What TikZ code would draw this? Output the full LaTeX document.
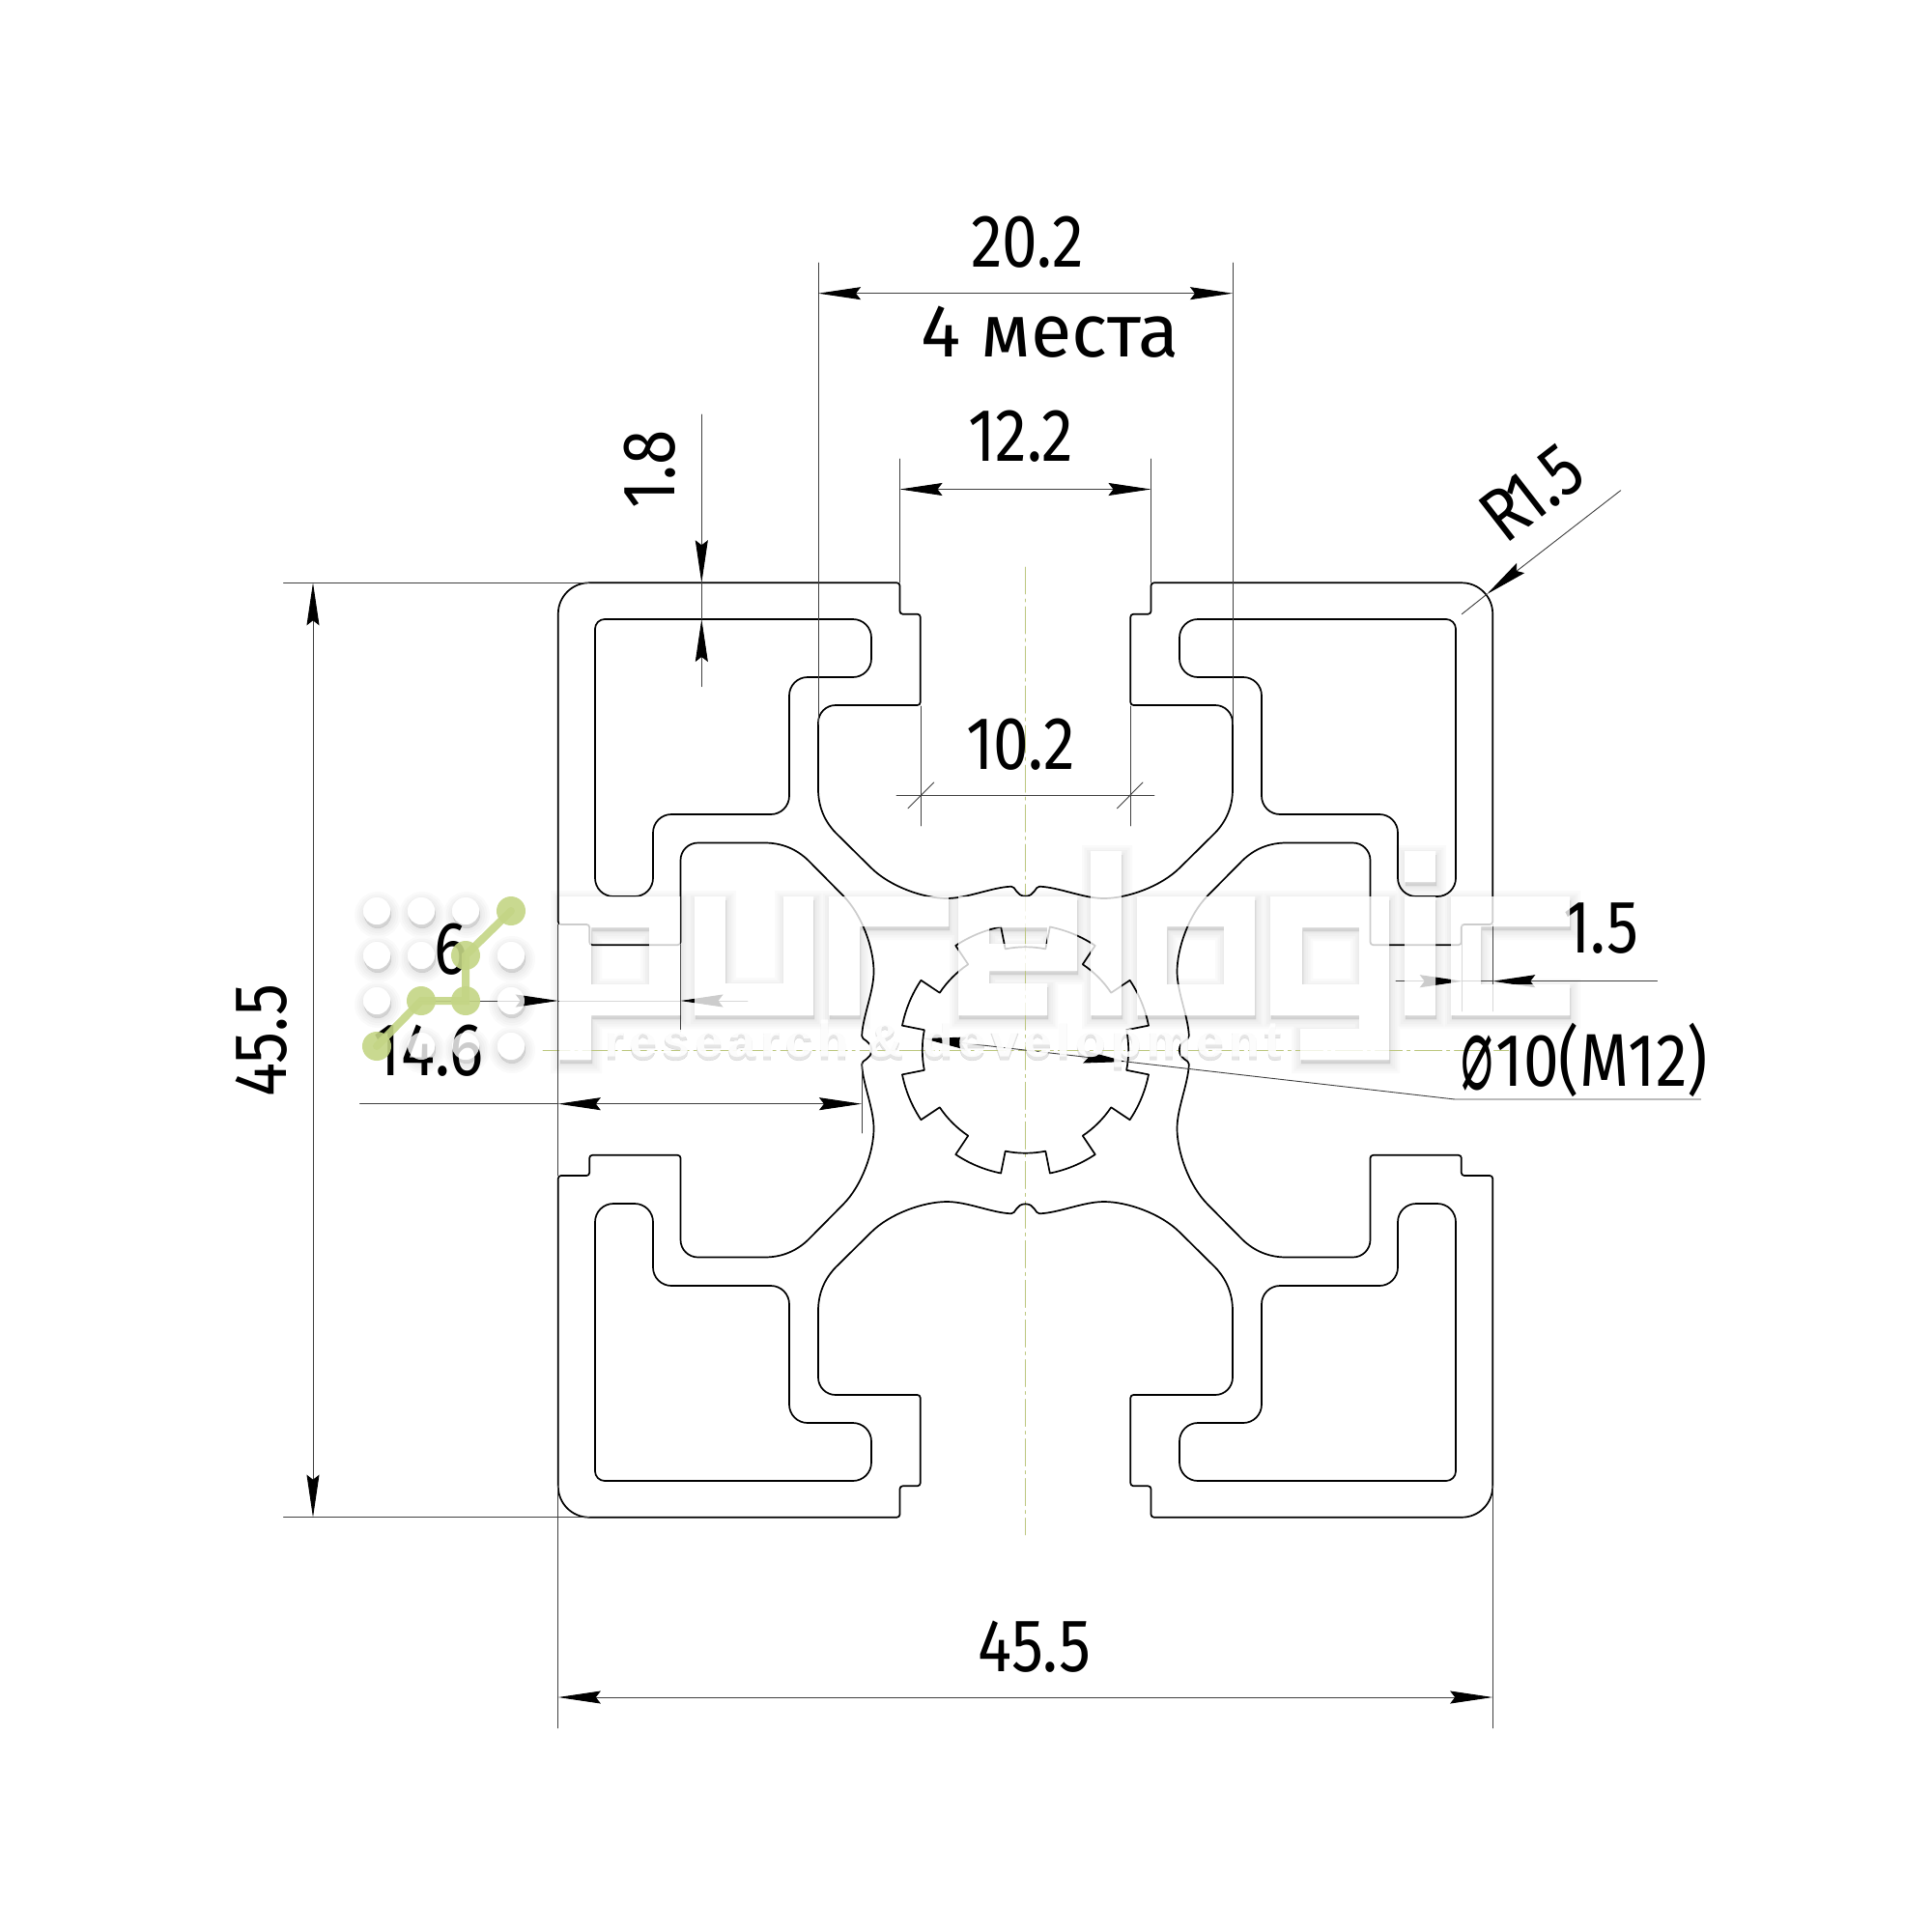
\documentclass[tikz,border=0pt]{standalone}
\usepackage{fontspec}
\usepackage{graphicx}
\setmainfont{Fira Sans}
\newfontfamily\symfont{DejaVu Sans}
\newfontfamily\rdfont[LetterSpace=9.7,FakeBold=0.6]{Liberation Sans}
\usetikzlibrary{arrows.meta}
\definecolor{centre}{HTML}{BCC67E}
\definecolor{logogreen}{HTML}{C4D585}

\newcommand{\narrow}[1]{\scalebox{.85}[1]{#1}}
\newcommand{\rdwords}{\rdfont\bfseries\fontsize{14.8}{15}\selectfont research \& development}
\newcommand{\logoletters}{
  (579,928) -- (704,928) -- (704,1051) -- (612,1051) -- (612,1097) -- (579,1097) -- cycle
  (612,960) rectangle (672,1019)
  (719,928) -- (751,928) -- (751,1018) -- (811,1018) -- (811,928) -- (842,928) -- (842,1051) -- (719,1051) -- cycle
  (858,928) -- (982,928) -- (982,959) -- (890,959) -- (890,1051) -- (858,1051) -- cycle
  (992,928) -- (1115,928) -- (1115,1005) -- (1024,1005) -- (1024,1018) -- (1084,1018) -- (1084,1051) -- (992,1051) -- cycle
  (1024,960) rectangle (1084,977)
  (1129,881) rectangle (1161,1051)
  (1177,928) rectangle (1299,1051)
  (1208,959) rectangle (1267,1019)
  (1315,928) -- (1438,928) -- (1438,1097) -- (1346,1097) -- (1346,1065) -- (1407,1065) -- (1407,1051) -- (1315,1051) -- cycle
  (1348,960) rectangle (1407,1019)
  (1454,928) rectangle (1486,1051)
  (1454,881) rectangle (1486,913)
  (1502,928) -- (1625,928) -- (1625,959) -- (1533,959) -- (1533,1019) -- (1625,1019) -- (1625,1051) -- (1502,1051) -- cycle
  (390,943) circle (14) (436,943) circle (14) (482,943) circle (14)
  (390,989) circle (14) (436,989) circle (14) (529,989) circle (14)
  (390,1036) circle (14) (529,1036) circle (14)
  (436,1083) circle (14) (482,1083) circle (14) (529,1083) circle (14)
}

\begin{document}
\begin{tikzpicture}[x=0.01cm, y=-0.01cm, line cap=round,
  >={Stealth[length=4.4mm, width=1.3mm, inset=0.5mm, black]},
  profile/.style={draw=black, line width=0.17mm, line join=round},
  dim/.style={draw=black!75, line width=0.09mm},
  axis/.style={draw=centre, line width=0.09mm, dash pattern=on 2.8mm off 0.5mm on 0.3mm off 0.5mm},
  dimtext/.style={inner sep=0, font=\fontsize{22}{22}\selectfont},
  greendot/.style={circle, fill=logogreen, fill opacity=0.9, minimum size=3mm, inner sep=0}]
  \useasboundingbox (0,0) rectangle (2000,2000);
  \fill[white] (0,0) rectangle (2000,2000);

  % watermark, shadow and ground
  \foreach \w in {20,15,10,5,1} {
    \fill[black, even odd rule, fill opacity=0.018, draw=black, draw opacity=0.018, line width=\w*0.1mm,
      shift={(1,4)}] \logoletters;
  }
  \node[inner sep=0, text=black, text opacity=0.1] (rdshadow) at (976,1084) {\rdwords};
  \fill[white, even odd rule] \logoletters;

  % centre lines
  \draw[axis] (1061.5,587) -- (1061.5,1589);
  \draw[axis] (562,1087) -- (1561.6,1087);

  % profile, one quadrant mirrored four times
  \foreach \sx/\sy in {1/1, -1/1, 1/-1, -1/-1} {
    \begin{scope}[shift={(1061.5,1087)}, xscale=\sx, yscale=\sy]
      \draw[profile] (0,-159.3) .. controls (-10,-159.3) and (-10,-169.8) .. (-14.7,-169.3)
        .. controls (-35,-168.5) and (-60,-157) .. (-81.3,-157)
        .. controls (-105,-157) and (-140,-169) .. (-159.8,-188.7)
        -- (-196.5,-225) .. controls (-208,-237) and (-214.5,-252) .. (-214.5,-270)
        [rounded corners=1.8mm] -- (-214.5,-357)
        [rounded corners=0.3mm] -- (-108.8,-357) -- (-108.8,-451.3) -- (-130,-451.3) -- (-130,-483.7)
        [rounded corners=3.2mm] -- (-483.7,-483.7)
        [rounded corners=0.3mm] -- (-483.7,-130) -- (-451.3,-130) -- (-451.3,-108.8) -- (-357,-108.8)
        [rounded corners=1.8mm] -- (-357,-214.5)
        [sharp corners] -- (-270,-214.5) .. controls (-252,-214.5) and (-237,-208) .. (-225,-196.5)
        -- (-188.7,-159.8) .. controls (-169,-140) and (-157,-105) .. (-157,-81.3)
        .. controls (-157,-60) and (-168.5,-35) .. (-169.3,-14.7)
        .. controls (-169.8,-10) and (-159.3,-10) .. (-159.3,0);
      \draw[profile, rounded corners=1.9mm] (-445.5,-300) [rounded corners=1mm] -- (-445.5,-446)
        [rounded corners=1.9mm] -- (-159.5,-446) -- (-159.5,-386) [rounded corners=1.9mm] -- (-244.5,-386)
        -- (-244.5,-244) -- (-385.5,-244) -- (-385.5,-159) -- (-445.5,-159) -- (-445.5,-300);
    \end{scope}
  }

  % centre hole
  \begin{scope}[shift={(1061.5,1087)}]
    \draw[profile] \foreach \a in {0,45,...,315} {
      (\a-11.25:106.7) arc[start angle=\a-11.25, end angle=\a+11.25, radius=106.7]
      -- (\a+11.25:130) arc[start angle=\a+11.25, end angle=\a+33.75, radius=130]
      -- (\a+33.75:106.7)};
  \end{scope}

  % extension lines
  \draw[dim] (847,272) -- (847,750);
  \draw[dim] (1276,272) -- (1276,750);
  \draw[dim] (931.5,475) -- (931.5,603);
  \draw[dim] (1191.5,475) -- (1191.5,603);
  \draw[dim] (953,731) -- (953,855);
  \draw[dim] (1170,731) -- (1170,855);
  \draw[dim] (293.5,603.3) -- (610,603.3);
  \draw[dim] (293.5,1570.7) -- (610,1570.7);
  \draw[dim] (577.8,1538) -- (577.8,1789);
  \draw[dim] (1545.2,1538) -- (1545.2,1789);
  \draw[dim] (577.8,957) -- (577.8,1217);
  \draw[dim] (704.5,978) -- (704.5,1068);
  \draw[dim] (892,1100) -- (892,1173);
  \draw[dim] (1513.8,957) -- (1513.8,1047);
  \draw[dim] (1545.2,957) -- (1545.2,1047);

  % dimension lines
  \draw[dim, <->] (847,303.7) -- (1276,303.7);
  \draw[dim, <->] (931.5,506.5) -- (1191.5,506.5);
  \draw[dim] (928,823) -- (1195,823);
  \draw[dim] (940,836.7) -- (966.7,810);
  \draw[dim] (1156.5,836.7) -- (1183,810);
  \draw[dim, <->] (324,603.3) -- (324,1570.7);
  \draw[dim, <->] (577.8,1757) -- (1545.2,1757);
  \draw[dim, ->] (726.3,429) -- (726.3,603.3);
  \draw[dim] (726.3,603.3) -- (726.3,641);
  \draw[dim, ->] (726.3,710.7) -- (726.3,641);
  \draw[dim, ->] (1677.7,507.7) -- (1539.3,615);
  \draw[dim] (1539.3,615) -- (1513.3,635.7);
  \draw[dim, ->] (434,1036) -- (577.8,1036);
  \draw[dim] (577.8,1036) -- (704.5,1036);
  \draw[dim, ->] (774,1036) -- (704.5,1036);
  \draw[dim] (372.5,1142.7) -- (577.8,1142.7);
  \draw[dim, <->] (577.8,1142.7) -- (892,1142.7);
  \draw[dim, ->] (1445,1015.7) -- (1513.8,1015.7);
  \draw[dim] (1513.8,1015.7) -- (1545.2,1015.7);
  \draw[dim, ->] (1715.5,1015.7) -- (1545.2,1015.7);
  \draw[dim, <->] (956,1075) -- (1165.7,1099);
  \draw[dim] (1165.7,1099) -- (1506,1138) -- (1760.6,1138);

  % dimension texts
  \node[dimtext] (width) at (1063.4,250.5) {\narrow{20.2}};
  \node[dimtext] (places) at (1087,344) {4 места};
  \node[dimtext] (slot) at (1056.7,451.5) {\narrow{12.2}};
  \node[dimtext] (inner) at (1056.7,771) {\narrow{10.2}};
  \node[dimtext, rotate=90] (wall) at (673,486) {\narrow{1.8}};
  \node[dimtext, rotate=37.8] (radius) at (1586,510) {\narrow{R\kern-2.5pt 1.5}};
  \node[dimtext, rotate=90] (height) at (270.5,1077) {\narrow{45.5}};
  \node[dimtext] (total) at (1071,1705) {\narrow{45.5}};
  \node[dimtext] (step) at (467,983) {\narrow{6}};
  \node[dimtext] (depth) at (443.5,1088) {\narrow{14.6}};
  \node[dimtext] (lip) at (1657,961) {\narrow{1.5}};
  \node[dimtext] (bore) at (1640,1097) {\scalebox{.85}[1]{\raisebox{-1pt}{\scalebox{.85}[1.4]{\symfont ⌀}}\kern1pt 10(M12)}};

  % watermark, over the drawing
  \fill[white, fill opacity=0.8, even odd rule] \logoletters;
  \node[inner sep=0, text=white, text opacity=0.9] (rdtext) at (976,1080) {\rdwords};
  \draw[logogreen, line width=0.8mm, draw opacity=0.9] (529,943) -- (482,989) -- (482,1036) -- (436,1036) -- (390,1083);
  \node[greendot] (g1) at (529,943) {};
  \node[greendot] (g2) at (482,989) {};
  \node[greendot] (g3) at (482,1036) {};
  \node[greendot] (g4) at (436,1036) {};
  \node[greendot] (g5) at (390,1083) {};
\end{tikzpicture}
\end{document}
